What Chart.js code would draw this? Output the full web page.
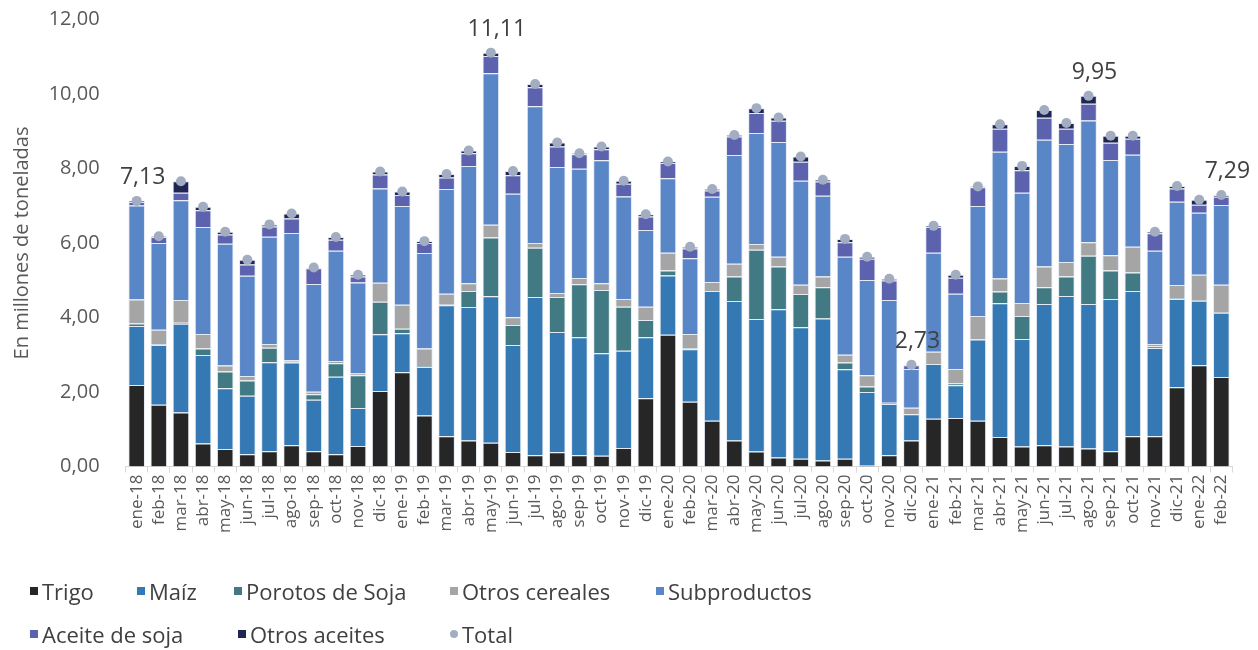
<!DOCTYPE html>
<html>
<head>
<meta charset="utf-8">
<script src="https://cdn.jsdelivr.net/npm/chart.js@4.4.0/dist/chart.umd.min.js"></script>
<style>
  body { margin: 0; background: #fff; }
  #wrap { position: relative; width: 1258px; height: 650px; }
  #legend { position: absolute; left: 0; top: 0; width: 1258px; height: 650px; pointer-events: none;
            font-family: 'Open Sans', sans-serif; font-size: 22px; color: #404040; }
  .item { position: absolute; display: flex; align-items: center; white-space: nowrap; transform: translateY(-50%); }
  .mk { width: 8px; height: 8px; margin-right: 4px; }
  .mk.dot { border-radius: 50%; }
</style>
</head>
<body>
<div id="wrap">
  <canvas id="chartCanvas" width="1258" height="650"></canvas>
  <div id="legend"></div>
</div>
<script>
// Meses (ene-18 a feb-22)
const meses = ['ene-18','feb-18','mar-18','abr-18','may-18','jun-18','jul-18','ago-18','sep-18','oct-18','nov-18','dic-18',
  'ene-19','feb-19','mar-19','abr-19','may-19','jun-19','jul-19','ago-19','sep-19','oct-19','nov-19','dic-19',
  'ene-20','feb-20','mar-20','abr-20','may-20','jun-20','jul-20','ago-20','sep-20','oct-20','nov-20','dic-20',
  'ene-21','feb-21','mar-21','abr-21','may-21','jun-21','jul-21','ago-21','sep-21','oct-21','nov-21','dic-21',
  'ene-22','feb-22'];

// Millones de toneladas por producto
const trigo = [2.19,1.66,1.45,0.62,0.47,0.33,0.41,0.57,0.41,0.33,0.55,2.03,
  2.53,1.37,0.81,0.70,0.64,0.39,0.30,0.38,0.30,0.29,0.50,1.83,
  3.54,1.74,1.23,0.70,0.40,0.24,0.21,0.16,0.21,0.04,0.30,0.70,
  1.28,1.30,1.23,0.79,0.54,0.57,0.54,0.48,0.41,0.81,0.81,2.13,
  2.72,2.40];
const maiz = [1.58,1.60,2.38,2.37,1.63,1.57,2.39,2.22,1.38,2.08,1.02,1.52,
  1.05,1.30,3.52,3.58,3.93,2.87,4.25,3.23,3.17,2.75,2.61,1.64,
  1.59,1.41,3.48,3.74,3.56,3.98,3.53,3.81,2.40,1.96,1.38,0.70,
  1.47,0.88,2.18,3.59,2.88,3.79,4.04,3.88,4.09,3.90,2.37,2.37,
  1.73,1.73];
const soja = [0.07,0.02,0.03,0.18,0.45,0.41,0.39,0.02,0.15,0.36,0.88,0.87,
  0.12,0.03,0.01,0.43,1.58,0.54,1.32,0.94,1.42,1.70,1.18,0.46,
  0.13,0.02,0.00,0.66,1.86,1.15,0.89,0.84,0.18,0.15,0.00,0.00,
  0.00,0.05,0.00,0.32,0.62,0.45,0.52,1.30,0.76,0.50,0.04,0.02,
  0.00,0.00];
const otrosCereales = [0.64,0.39,0.61,0.39,0.16,0.12,0.10,0.05,0.07,0.06,0.05,0.51,
  0.64,0.47,0.30,0.21,0.34,0.21,0.13,0.11,0.17,0.18,0.21,0.36,
  0.48,0.39,0.24,0.34,0.15,0.26,0.25,0.29,0.21,0.30,0.03,0.18,
  0.33,0.39,0.63,0.35,0.35,0.56,0.39,0.36,0.41,0.69,0.07,0.35,
  0.70,0.75];
const subproductos = [2.53,2.33,2.68,2.87,3.27,2.69,2.88,3.41,2.89,2.96,2.44,2.53,
  2.65,2.56,2.81,3.15,4.07,3.31,3.67,3.38,2.93,3.30,2.75,2.06,
  2.00,2.03,2.29,2.92,2.98,3.08,2.79,2.17,2.63,2.56,2.76,1.04,
  2.66,2.02,2.95,3.40,2.96,3.40,3.17,3.27,2.56,2.47,2.50,2.24,
  1.66,2.14];
const aceiteSoja = [0.09,0.16,0.20,0.45,0.25,0.30,0.27,0.39,0.42,0.30,0.16,0.38,
  0.30,0.27,0.31,0.34,0.46,0.50,0.51,0.55,0.39,0.30,0.34,0.36,
  0.41,0.26,0.17,0.50,0.54,0.57,0.51,0.38,0.39,0.57,0.52,0.10,
  0.69,0.43,0.51,0.62,0.60,0.59,0.41,0.45,0.46,0.43,0.47,0.35,
  0.22,0.22];
const otrosAceites = [0.03,0.02,0.31,0.09,0.07,0.13,0.06,0.13,0.02,0.07,0.05,0.08,
  0.09,0.05,0.09,0.07,0.09,0.11,0.09,0.11,0.03,0.07,0.08,0.06,
  0.04,0.05,0.04,0.04,0.13,0.09,0.14,0.05,0.09,0.05,0.05,0.01,
  0.03,0.08,0.02,0.12,0.12,0.21,0.15,0.21,0.19,0.08,0.04,0.07,
  0.13,0.05];
const total = [7.13,6.18,7.66,6.97,6.30,5.55,6.50,6.79,5.34,6.16,5.15,7.92,
  7.38,6.05,7.85,8.48,11.11,7.93,10.27,8.70,8.41,8.59,7.67,6.77,
  8.19,5.90,7.45,8.90,9.62,9.37,8.32,7.70,6.11,5.63,5.04,2.73,
  6.46,5.15,7.52,9.19,8.07,9.57,9.22,9.95,8.88,8.88,6.30,7.53,
  7.16,7.29];

// Meses con etiqueta del total
const labelIdx = [0, 16, 35, 43, 49];

const fuente = "'Open Sans', sans-serif";
const fmt = v => Number(v).toFixed(2).replace('.', ',');

function barra(label, data, color) {
  return {
    type: 'bar', label: label, data: data, backgroundColor: color,
    borderColor: 'rgba(225,232,242,0.9)', borderWidth: 1,
    stack: 'a', order: 1
  };
}

// Etiquetas de valores del total
const totalLabels = {
  id: 'totalLabels',
  afterDatasetsDraw(chart) {
    const meta = chart.getDatasetMeta(7);
    const ctx = chart.ctx;
    ctx.save();
    ctx.font = '23px ' + fuente;
    ctx.fillStyle = '#404040';
    ctx.textAlign = 'center';
    ctx.textBaseline = 'middle';
    labelIdx.forEach(i => {
      const p = meta.data[i];
      ctx.fillText(fmt(total[i]), p.x + 6, p.y - 23);
    });
    ctx.restore();
  }
};

const ctx = document.getElementById('chartCanvas').getContext('2d');
const chart = new Chart(ctx, {
  data: {
    labels: meses,
    datasets: [
      barra('Trigo', trigo, '#262626'),
      barra('Maíz', maiz, '#3478b4'),
      barra('Porotos de Soja', soja, '#417a82'),
      barra('Otros cereales', otrosCereales, '#a5a5a5'),
      barra('Subproductos', subproductos, '#5886c6'),
      barra('Aceite de soja', aceiteSoja, '#5c62ad'),
      barra('Otros aceites', otrosAceites, '#1f2654'),
      {
        type: 'line', label: 'Total', data: total, showLine: false,
        pointRadius: 5, pointHoverRadius: 5, pointBorderWidth: 0,
        backgroundColor: '#a2adc2', borderColor: '#a2adc2',
        stack: 'total', order: 0
      }
    ]
  },
  options: {
    responsive: false,
    animation: false,
    devicePixelRatio: 1,
    layout: { padding: { top: 19.5, right: 25.6, left: 0, bottom: 0 } },
    datasets: { bar: { categoryPercentage: 0.75, barPercentage: 1 } },
    plugins: { legend: { display: false }, tooltip: { enabled: false } },
    scales: {
      x: {
        stacked: true,
        offset: true,
        grid: { display: true, drawOnChartArea: false, offset: true, color: '#d9d9d9', tickLength: 6 },
        border: { display: true, color: '#d9d9d9' },
        ticks: { autoSkip: false, minRotation: 90, maxRotation: 90, padding: 2,
                 color: '#595959', font: { family: fuente, size: 17 } },
        afterFit(s) { s.height = 183.5; }
      },
      y: {
        stacked: true,
        min: 0, max: 12,
        grid: { display: false, drawTicks: true, tickLength: 26 },
        border: { display: false },
        ticks: { stepSize: 2, padding: 0, callback: v => fmt(v),
                 color: '#595959', font: { family: fuente, size: 20 } },
        title: { display: true, text: 'En millones de toneladas', color: '#595959',
                 font: { family: fuente, size: 20 }, padding: { top: 10, bottom: 0 } },
        afterFit(s) { s.width = 125.6; }
      }
    }
  },
  plugins: [totalLabels]
});

// Leyenda en dos filas como en el original
const legendPos = [[30, 591], [137, 591], [234, 591], [450, 591], [656, 591], [30, 634], [238, 634], [450, 634]];
const legend = document.getElementById('legend');
chart.data.datasets.forEach((ds, i) => {
  const it = document.createElement('div');
  it.className = 'item';
  it.style.left = legendPos[i][0] + 'px';
  it.style.top = legendPos[i][1] + 'px';
  const mk = document.createElement('span');
  mk.className = ds.type === 'line' ? 'mk dot' : 'mk';
  mk.style.background = ds.backgroundColor;
  const tx = document.createElement('span');
  tx.textContent = ds.label;
  it.appendChild(mk);
  it.appendChild(tx);
  legend.appendChild(it);
});
</script>
</body>
</html>
